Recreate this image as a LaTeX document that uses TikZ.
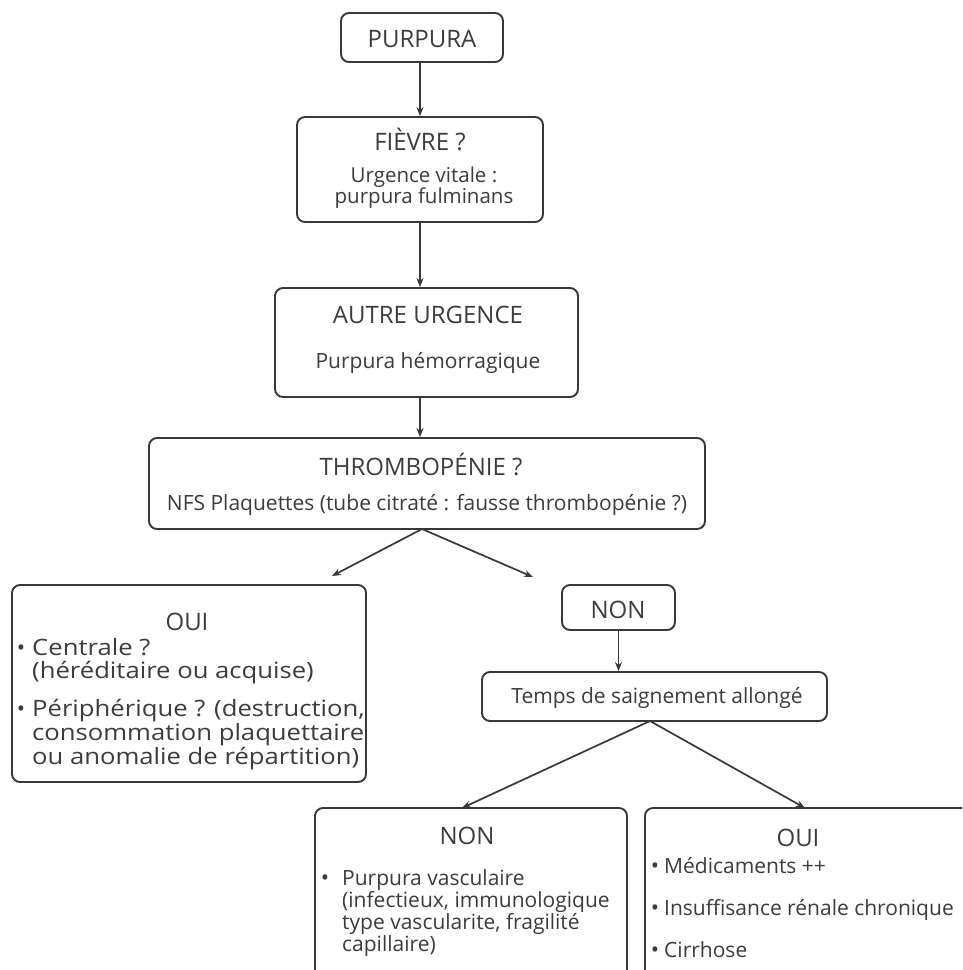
\documentclass[tikz,border=0pt]{standalone}
\usepackage{fontspec}
\setmainfont{Open Sans}
\usetikzlibrary{arrows.meta}
\definecolor{ink}{HTML}{383838}
\definecolor{txt}{HTML}{3C3C3C}
\newcommand{\wider}[1]{\scalebox{1.14}[1]{#1}}
\tikzset{
  box/.style={draw=ink, line width=1.9pt, rounded corners=8pt, inner sep=0pt},
  arr/.style={draw=ink, line width=1.7pt, -{Stealth[length=9pt,width=7pt]}},
  head/.style={text=txt, font=\fontsize{24}{26}\selectfont, anchor=base, inner sep=0pt},
  body/.style={text=txt, font=\fontsize{21}{22}\selectfont, anchor=base, inner sep=0pt},
  bodyl/.style={body, anchor=base west},
  bodyw/.style={text=txt, font=\fontsize{22.5}{22}\selectfont, anchor=base west, inner sep=0pt},
  bul/.style={text=txt, font=\fontsize{22}{22}\selectfont, anchor=base, inner sep=0pt},
}
\begin{document}
\begin{tikzpicture}[x=1pt,y=-1pt]
\useasboundingbox (0,0) rectangle (962,970);
\clip (0,0) rectangle (962,970);
\fill[white] (0,0) rectangle (962,970);

% boxes
\node[box, minimum width=162pt, minimum height=49pt] (purpura) at (422,37.5) {};
\node[box, minimum width=246pt, minimum height=105pt] (fievre) at (420,169.5) {};
\node[box, minimum width=303pt, minimum height=109pt] (autre) at (426.5,342.5) {};
\node[box, minimum width=556pt, minimum height=91pt] (thrombo) at (427,483.5) {};
\node[box, minimum width=354pt, minimum height=197pt] (oui) at (189,683.5) {};
\node[box, minimum width=113pt, minimum height=45pt] (non) at (618.5,607.5) {};
\node[box, minimum width=345pt, minimum height=49pt] (temps) at (654.5,696.5) {};
\node[box, minimum width=312pt, minimum height=190pt] (nonb) at (471,903) {};
\node[box, minimum width=340pt, minimum height=190pt] (ouib) at (815,903) {};

% texts
\node[head] (tpurpura) at (422,47) {PURPURA};
\node[head] (tfievre) at (420,150) {FIÈVRE ?};
\node[body, font=\fontsize{20.5}{22}\selectfont] (tf1) at (424,182) {Urgence vitale :};
\node[body, font=\fontsize{20.5}{22}\selectfont] (tf2) at (424,203.5) {purpura fulminans};
\node[head] (tautre) at (428,323) {AUTRE URGENCE};
\node[body] (ta1) at (428,368) {Purpura hémorragique};
\node[head] (tthrombo) at (421,475) {THROMBOPÉNIE ?};
\node[body] (tt1) at (427,510) {NFS Plaquettes (tube citraté : fausse thrombopénie ?)};

\node[head] (toui) at (187,630) {OUI};
\node[bul] (bo1) at (21,655) {•};
\node[bodyw] (to1) at (32,655) {\wider{Centrale ?}};
\node[bodyw] (to2) at (32,678) {\wider{(héréditaire ou acquise)}};
\node[bul] (bo2) at (21,716) {•};
\node[bodyw] (to3) at (32,716) {\wider{Périphérique ? (destruction,}};
\node[bodyw] (to4) at (32,740) {\wider{consommation plaquettaire}};
\node[bodyw] (to5) at (32,764) {\wider{ou anomalie de répartition)}};

\node[head] (tnon) at (618,618) {NON};
\node[body] (ttemps) at (657,703) {Temps de saignement allongé};

\node[head] (tnonb) at (467,844) {NON};
\node[bul] (bn1) at (325,885) {•};
\node[bodyl] (tn1) at (342,885) {Purpura vasculaire};
\node[bodyl] (tn2) at (342,907) {(infectieux, immunologique};
\node[bodyl] (tn3) at (342,929) {type vascularite, fragilité};
\node[bodyl] (tn4) at (342,951) {capillaire)};

\node[head] (touib) at (798,846) {OUI};
\node[bul] (bi1) at (655,873) {•};
\node[bodyl] (ti1) at (664,873) {Médicaments ++};
\node[bul] (bi2) at (655,915) {•};
\node[bodyl] (ti2) at (664,915) {Insuffisance rénale chronique};
\node[bul] (bi3) at (655,957) {•};
\node[bodyl] (ti3) at (664,957) {Cirrhose};

% connector points
\coordinate (split1) at (422,529);
\coordinate (e1) at (332,576);
\coordinate (e2) at (533,577);
\coordinate (split2) at (650,721);
\coordinate (e3) at (462,808);
\coordinate (e4) at (805,808);

% connectors
\draw[arr] (purpura.south -| fievre.north) -- (fievre.north);
\draw[arr] (fievre.south) -- (fievre.south |- autre.north);
\draw[arr] (fievre.south |- autre.south) -- (fievre.south |- thrombo.north);
\draw[arr] (split1) -- (e1);
\draw[arr] (split1) -- (e2);
\draw[arr] (non.south) -- (non.south |- temps.north);
\draw[arr] (split2) -- (e3);
\draw[arr] (split2) -- (e4);
\end{tikzpicture}
\end{document}
